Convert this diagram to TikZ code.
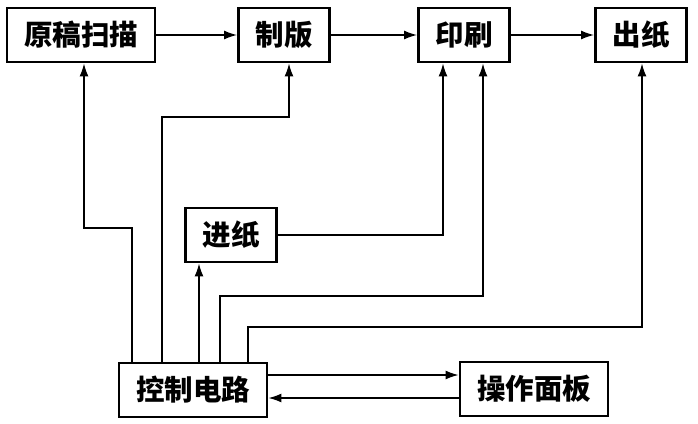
\documentclass[tikz,border=0pt]{standalone}
\usepackage{fontspec}
\newfontfamily\cjk{Noto Sans CJK SC}
\usetikzlibrary{arrows.meta}
\tikzset{blk/.style={
  draw,
  line width=2.8pt,
  fill=white,
  shape=rectangle,
  minimum height=54pt,
  inner xsep=17pt,
  font=\cjk\bfseries\fontsize{28.5}{28.5}\selectfont
}}
\tikzset{ln/.style={
  line width=1.6pt,
  -{Latex[length=13pt,width=9pt]}
}}

\begin{document}
\begin{tikzpicture}[x=1pt,y=-1pt]
    \useasboundingbox (0,0) rectangle (698,423);

    % Top row
    \node[blk] (scan) at (81,35) {原稿扫描};
    \node[blk] (plate) at (284,35) {制版};
    \node[blk] (print) at (464,35) {印刷};
    \node[blk] (out) at (641,35) {出纸};

    % Bottom boxes
    \node[blk] (feed) at (231,235) {进纸};
    \node[blk] (ctrl) at (193,390) {控制电路};
    \node[blk] (panel) at (534,389) {操作面板};

    % Top row flow
    \draw[ln] (scan.east) -- (plate.west);
    \draw[ln] (plate.east) -- (print.west);
    \draw[ln] (print.east) -- (out.west);

    % Control lines
    \draw[ln] (ctrl.north -| 132,0) |- (84,228) -- (scan.south -| 84,0);
    \draw[ln] (ctrl.north -| 162,0) |- (289,117) -- (plate.south -| 289,0);
    \draw[ln] (ctrl.north -| 199,0) -- (feed.south -| 199,0);
    \draw[ln] (ctrl.north -| 220,0) |- (483,296) -- (print.south -| 483,0);
    \draw[ln] (ctrl.north -| 248,0) |- (642,327) -- (out.south -| 642,0);
    \draw[ln] (feed.east) -| (print.south -| 443,0);

    % Panel link
    \draw[ln] (ctrl.east |- 0,375) -- (panel.west |- 0,375);
    \draw[ln] (panel.west |- 0,398) -- (ctrl.east |- 0,398);

  \end{tikzpicture}
\end{document}
